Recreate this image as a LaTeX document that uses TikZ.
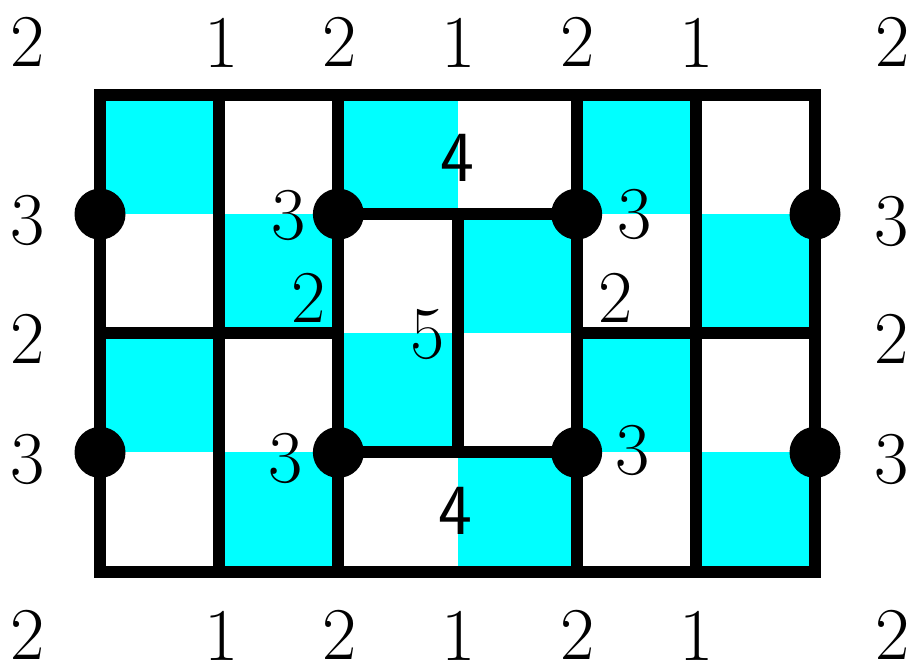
\documentclass[tikz,border=0pt]{standalone}
\usepackage{fontspec}
\definecolor{cy}{RGB}{0,255,255}
\begin{document}
\begin{tikzpicture}[x=1pt,y=-1pt,
  lab/.style={inner sep=0pt, font=\fontsize{74.5}{74.5}\selectfont},
  slab/.style={inner sep=0pt, font=\sffamily\fontsize{72}{72}\selectfont},
  wall/.style={line width=12pt},
  dot/.style={circle, fill=black, minimum size=51pt, inner sep=0pt},
  cell/.style={fill=cy}
]
\useasboundingbox (0,0) rectangle (915,666);
% grid points
\foreach \c in {0,...,6} {
  \foreach \r in {0,...,4} {
    \coordinate (g\c\r) at (100+\c*119.1667, 95+\r*119.125);
  }
}
% cyan cells
\foreach \r in {0,...,3} {
  \foreach \c in {0,...,5} {
    \pgfmathtruncatemacro{\myparity}{mod(\r+\c,2)}
    \ifnum\myparity=0
      \fill[cell] (100+\c*119.1667, 95+\r*119.125) rectangle ++(119.1667,119.125);
    \fi
  }
}
% walls
\draw[wall] (g00) rectangle (g64);
\draw[wall] (g10) -- (g14);
\draw[wall] (g20) -- (g24);
\draw[wall] (g40) -- (g44);
\draw[wall] (g50) -- (g54);
\draw[wall] (g31) -- (g33);
\draw[wall] (g02) -- (g22);
\draw[wall] (g42) -- (g62);
\draw[wall] (g21) -- (g41);
\draw[wall] (g23) -- (g43);
% dots
\node[dot] (d1) at (g01) {};
\node[dot] (d2) at (g21) {};
\node[dot] (d3) at (g41) {};
\node[dot] (d4) at (g61) {};
\node[dot] (d5) at (g03) {};
\node[dot] (d6) at (g23) {};
\node[dot] (d7) at (g43) {};
\node[dot] (d8) at (g63) {};
% top labels
\node[lab] (t0) at (28,42) {2};
\node[lab] (t1) at (222,43) {1};
\node[lab] (t2) at (340,42) {2};
\node[lab] (t3) at (459,43) {1};
\node[lab] (t4) at (578,42) {2};
\node[lab] (t5) at (697,43) {1};
\node[lab] (t6) at (893,42) {2};
% bottom labels
\node[lab] (b0) at (28,635) {2};
\node[lab] (b1) at (222,636) {1};
\node[lab] (b2) at (340,635) {2};
\node[lab] (b3) at (459,636) {1};
\node[lab] (b4) at (578,635) {2};
\node[lab] (b5) at (697,636) {1};
\node[lab] (b6) at (893,635) {2};
% side labels
\node[lab] (l1) at (28,220) {3};
\node[lab] (l2) at (28,339) {2};
\node[lab] (l3) at (28,459) {3};
\node[lab] (r1) at (892,221) {3};
\node[lab] (r2) at (892,339) {2};
\node[lab] (r3) at (892,459) {3};
% inner labels
\node[slab] (i1) at (457,158) {4};
\node[lab] (i2) at (289,215) {3};
\node[lab] (i3) at (309,298) {2};
\node[lab] (i4) at (428,335) {5};
\node[lab] (i5) at (635,214) {3};
\node[lab] (i6) at (616,298) {2};
\node[lab] (i7) at (286,458) {3};
\node[slab] (i8) at (455,511) {4};
\node[lab] (i9) at (633,450) {3};
\end{tikzpicture}
\end{document}
